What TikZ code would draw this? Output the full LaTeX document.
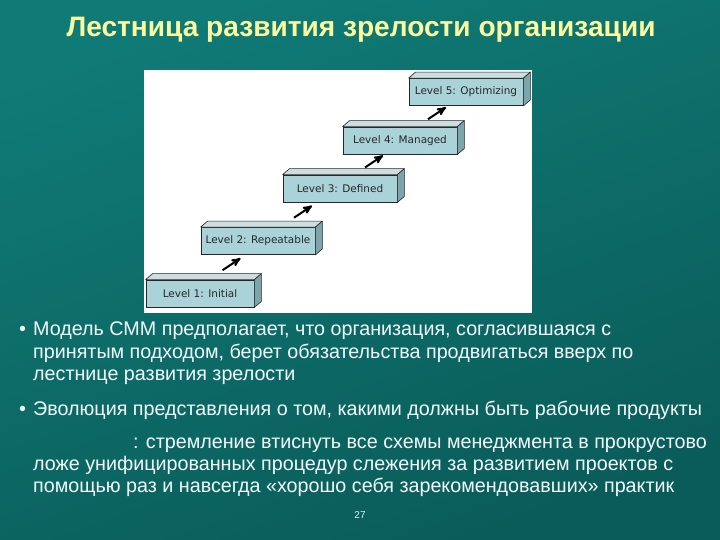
\documentclass[tikz,border=0pt]{standalone}
\usepackage{fontspec}
\setmainfont{Liberation Sans}
\newfontfamily\boxfont{DejaVu Sans}
\usetikzlibrary{arrows,calc,positioning}

\definecolor{slidetop}{RGB}{16,122,118}
\definecolor{slidebot}{RGB}{10,92,89}
\definecolor{titleyellow}{RGB}{250,250,160}
\definecolor{stepfront}{RGB}{170,211,217}
\definecolor{steptop}{RGB}{205,222,225}
\definecolor{stepside}{RGB}{125,165,172}

\tikzset{
  levelbox/.style={draw=black!85,line width=0.8bp,fill=stepfront,minimum height=27bp,
    inner sep=0pt,font=\boxfont\fontsize{10.5}{12}\selectfont,text=black!85},
  topface/.style={fill=steptop,draw=black!85,line width=0.6bp,line join=round},
  sideface/.style={fill=stepside,draw=black!85,line width=0.6bp,line join=round},
  steparrow/.style={->,>=stealth',line width=2bp,black},
  bodyline/.style={anchor=base west,inner sep=0pt,text=white!95!cyan,font=\fontsize{19.8}{22}\selectfont}
}

\begin{document}
\begin{tikzpicture}[x=1bp,y=1bp]
\useasboundingbox (0,0) rectangle (720,540);
\shade[top color=slidetop,bottom color=slidebot,shading angle=20] (0,0) rectangle (720,540);

% title
\node[anchor=base,inner sep=0pt,text=titleyellow,font=\bfseries\fontsize{28.2}{32}\selectfont]
  (title) at (361,503) {Лестница развития зрелости организации};

% picture of the staircase
\fill[white] (144,227) rectangle (532,470);
\node[levelbox,minimum width=108bp] (L1) at (200,246.5) {Level 1: Initial};
\node[levelbox,minimum width=114bp] (L2) at (258,299) {Level 2: Repeatable};
\node[levelbox,minimum width=114bp] (L3) at (340,351.5) {Level 3: Defined};
\node[levelbox,minimum width=114bp] (L4) at (400,399.5) {Level 4: Managed};
\node[levelbox,minimum width=114bp] (L5) at (466,448) {Level 5: Optimizing};
\foreach \n in {1,...,5}{
  \draw[topface] (L\n.north west) -- ++(7,6) -- ($(L\n.north east)+(7,6)$) -- (L\n.north east) -- cycle;
  \draw[sideface] (L\n.north east) -- ++(7,6) -- ($(L\n.south east)+(7,6)$) -- (L\n.south east) -- cycle;
}
\foreach \a/\b in {L1/L2,L2/L3,L3/L4,L4/L5}
  \draw[steparrow] ($(\a.north east)!.5!(\b.south west)+(-5,-3)$) -- ++(18,12);

% bullets
\node[bodyline] (b1) at (19,204) {•};
\node[bodyline] (b2) at (19,124) {•};
\foreach \y/\x/\txt [count=\n] in {
  204/33/{Модель СММ предполагает, что организация, согласившаяся с},
  181/33/{принятым подходом, берет обязательства продвигаться вверх по},
  159/33/{лестнице развития зрелости},
  124/33/{Эволюция представления о том, какими должны быть рабочие продукты},
  91/133/{: стремление втиснуть все схемы менеджмента в прокрустово},
  69/33/{ложе унифицированных процедур слежения за развитием проектов с},
  47/33/{помощью раз и навсегда «хорошо себя зарекомендовавших» практик}}
  \node[bodyline] (t\n) at (\x,\y) {\txt};

\node[anchor=base,inner sep=0pt,text=white!85!cyan,font=\fontsize{10}{12}\selectfont] (page) at (360,21) {27};
\end{tikzpicture}
\end{document}
